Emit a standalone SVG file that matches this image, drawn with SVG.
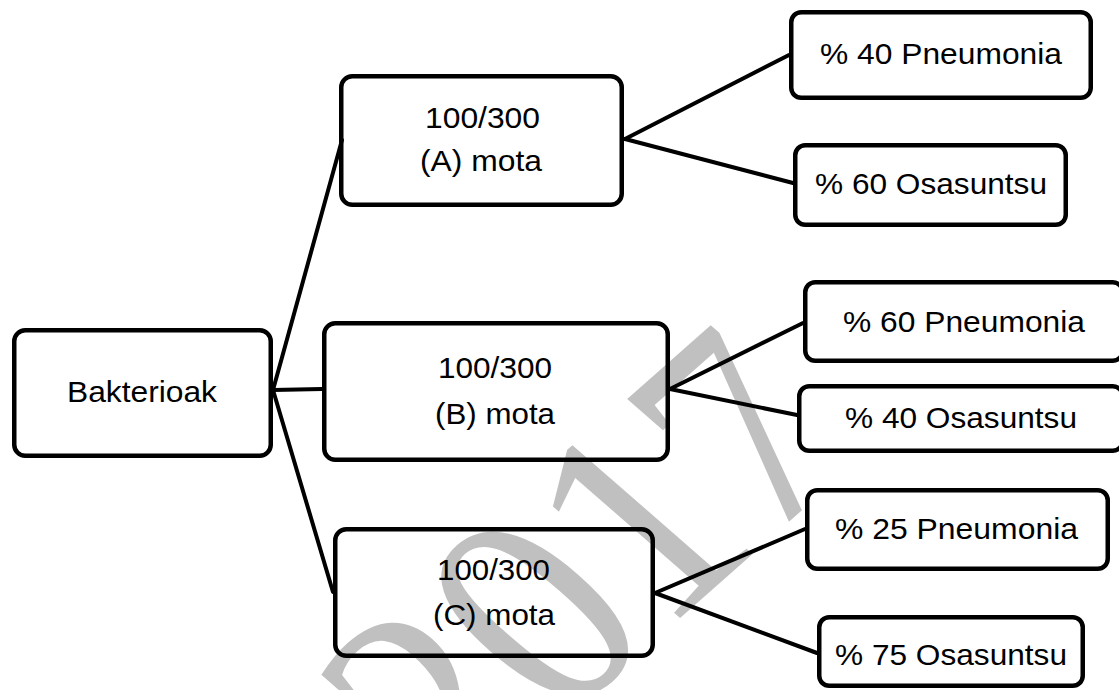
<svg xmlns="http://www.w3.org/2000/svg" width="1119" height="690" viewBox="0 0 1119 690">
<style>
.box{fill:none;stroke:#000;stroke-width:4.5}
.lbl{font-family:"Liberation Sans",Arial,sans-serif;font-size:30px;fill:#000;text-anchor:middle}
.wm{font-family:"Liberation Serif","Times New Roman",serif;font-size:315px;fill:#c0c0c0;text-anchor:middle}
.conn{stroke:#000;stroke-width:4;fill:none;stroke-linecap:round}
</style>
<rect x="0" y="0" width="1119" height="690" fill="#fff"/>
<g id="watermark">
<text class="wm" transform="matrix(0.654,-0.578,0.734,0.640,662,634)" x="0" y="0">2017</text>
</g>
<g id="connectors">
<line class="conn" x1="273" y1="390" x2="342" y2="140"/>
<line class="conn" x1="273" y1="390" x2="322" y2="389"/>
<line class="conn" x1="273" y1="390" x2="333" y2="592"/>
<line class="conn" x1="625" y1="139" x2="789" y2="55"/>
<line class="conn" x1="625" y1="139" x2="793" y2="183"/>
<line class="conn" x1="670" y1="389" x2="803" y2="323"/>
<line class="conn" x1="670" y1="389" x2="797" y2="415"/>
<line class="conn" x1="655" y1="593" x2="805" y2="529"/>
<line class="conn" x1="655" y1="593" x2="817" y2="653"/>
</g>
<g id="node-bakterioak">
<rect class="box" x="14.25" y="330.25" width="256.5" height="125.5" rx="11"/>
<text class="lbl" x="142" y="402" textLength="150" lengthAdjust="spacingAndGlyphs">Bakterioak</text>
</g>
<g id="node-a">
<rect class="box" x="341.25" y="76.25" width="280.5" height="128.5" rx="11"/>
<text class="lbl" x="482.5" y="128" textLength="115" lengthAdjust="spacingAndGlyphs">100/300</text>
<text class="lbl" x="481" y="171" textLength="122" lengthAdjust="spacingAndGlyphs">(A) mota</text>
</g>
<g id="node-b">
<rect class="box" x="324.25" y="323.25" width="343.5" height="136.5" rx="11"/>
<text class="lbl" x="495" y="378" textLength="114" lengthAdjust="spacingAndGlyphs">100/300</text>
<text class="lbl" x="495" y="424" textLength="120" lengthAdjust="spacingAndGlyphs">(B) mota</text>
</g>
<g id="node-c">
<rect class="box" x="335.25" y="529.25" width="317.5" height="126.5" rx="11"/>
<text class="lbl" x="493.5" y="580" textLength="113" lengthAdjust="spacingAndGlyphs">100/300</text>
<text class="lbl" x="494" y="625" textLength="122" lengthAdjust="spacingAndGlyphs">(C) mota</text>
</g>
<g id="node-a-pneumonia">
<rect class="box" x="791.25" y="12.25" width="299.5" height="85.5" rx="10"/>
<text class="lbl" x="941" y="64" textLength="242" lengthAdjust="spacingAndGlyphs">% 40 Pneumonia</text>
</g>
<g id="node-a-osasuntsu">
<rect class="box" x="795.25" y="145.25" width="270.5" height="79.5" rx="10"/>
<text class="lbl" x="931" y="194" textLength="232" lengthAdjust="spacingAndGlyphs">% 60 Osasuntsu</text>
</g>
<g id="node-b-pneumonia">
<rect class="box" x="805.25" y="282.25" width="317.5" height="78.5" rx="10"/>
<text class="lbl" x="964" y="332" textLength="242" lengthAdjust="spacingAndGlyphs">% 60 Pneumonia</text>
</g>
<g id="node-b-osasuntsu">
<rect class="box" x="799.25" y="386.25" width="323.5" height="64.5" rx="10"/>
<text class="lbl" x="961" y="428" textLength="232" lengthAdjust="spacingAndGlyphs">% 40 Osasuntsu</text>
</g>
<g id="node-c-pneumonia">
<rect class="box" x="807.25" y="490.25" width="300.5" height="78.5" rx="10"/>
<text class="lbl" x="956.5" y="539" textLength="243" lengthAdjust="spacingAndGlyphs">% 25 Pneumonia</text>
</g>
<g id="node-c-osasuntsu">
<rect class="box" x="819.25" y="617.25" width="263.5" height="68.5" rx="10"/>
<text class="lbl" x="951" y="665" textLength="232" lengthAdjust="spacingAndGlyphs">% 75 Osasuntsu</text>
</g>
</svg>
